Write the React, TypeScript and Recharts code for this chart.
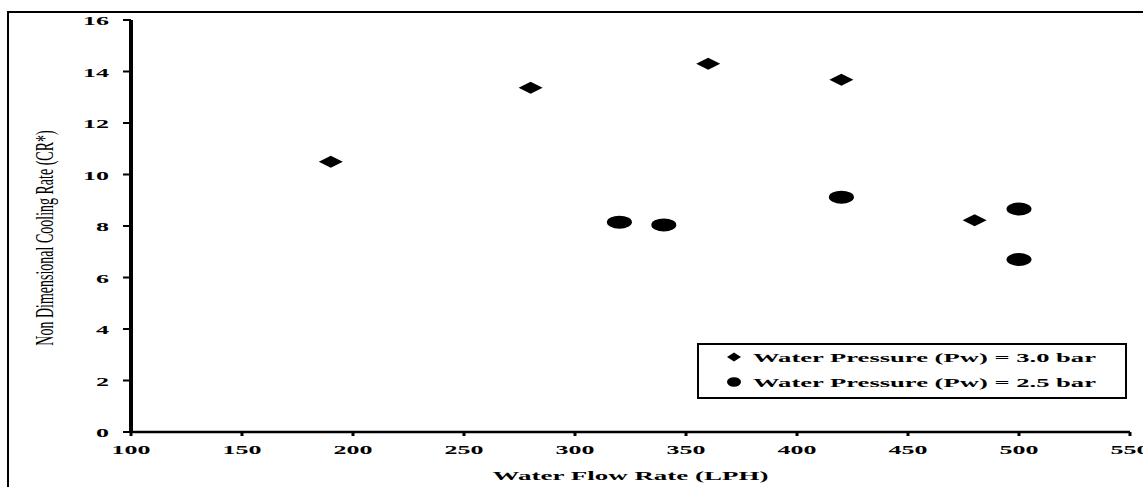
import React from "react";
import { ScatterChart, Scatter, XAxis, YAxis, Legend } from "recharts";

const FONT = "'Liberation Serif', 'Times New Roman', serif";

const xTicks = [100, 150, 200, 250, 300, 350, 400, 450, 500, 550];
const yTicks = [0, 2, 4, 6, 8, 10, 12, 14, 16];

const seriesNames = [
  "Water Pressure (Pw) = 3.0 bar",
  "Water Pressure (Pw) = 2.5 bar",
];

// Pw = 3.0 bar (diamonds)
const pw30 = [
  { flow: 190, cr: 10.5 },
  { flow: 280, cr: 13.37 },
  { flow: 360, cr: 14.3 },
  { flow: 420, cr: 13.68 },
  { flow: 480, cr: 8.22 },
];

// Pw = 2.5 bar (circles)
const pw25 = [
  { flow: 320, cr: 8.15 },
  { flow: 340, cr: 8.04 },
  { flow: 420, cr: 9.12 },
  { flow: 500, cr: 8.66 },
  { flow: 500, cr: 6.7 },
];

const Diamond = (props: any) => {
  const { cx, cy } = props;
  const w = props.w ?? 12;
  const h = props.h ?? 6;
  return (
    <path
      d={`M${cx - w},${cy} L${cx},${cy - h} L${cx + w},${cy} L${cx},${cy + h} Z`}
      fill="#000"
    />
  );
};

const Oval = (props: any) => {
  const { cx, cy } = props;
  return <ellipse cx={cx} cy={cy} rx={props.rx ?? 12.5} ry={props.ry ?? 6.5} fill="#000" />;
};

const XTick = (props: any) => {
  const { x, y, payload } = props;
  return (
    <text
      transform={`translate(${x},${y}) scale(2,1)`}
      textAnchor="middle"
      dy="0.71em"
      fontFamily={FONT}
      fontWeight="bold"
      fontSize={13}
      fill="#000"
      stroke="none"
    >
      {payload.value}
    </text>
  );
};

const YTick = (props: any) => {
  const { x, y, payload } = props;
  return (
    <text
      transform={`translate(${x},${y}) scale(2,1)`}
      textAnchor="end"
      dy="0.4em"
      fontFamily={FONT}
      fontWeight="bold"
      fontSize={13}
      fill="#000"
      stroke="none"
    >
      {payload.value}
    </text>
  );
};

const XTitle = (props: any) => {
  const { x, y, width } = props.viewBox || {};
  return (
    <text
      transform={`translate(${x + width / 2},${y + 43}) scale(2,1)`}
      textAnchor="middle"
      dy="0.35em"
      fontFamily={FONT}
      fontWeight="bold"
      fontSize={13.5}
      fill="#000"
    >
      Water Flow Rate (LPH)
    </text>
  );
};

const YTitle = (props: any) => {
  const { y, height } = props.viewBox || {};
  return (
    <text
      transform={`translate(44,${y + height / 2 + 12}) scale(1.8,1) rotate(-90)`}
      textAnchor="middle"
      dy="0.35em"
      fontFamily={FONT}
      fontSize={14}
      fill="#000"
    >
      Non Dimensional Cooling Rate (CR*)
    </text>
  );
};

const LegendBox = (props: any) => {
  const payload = [...(props.payload || [])].sort(
    (a: any, b: any) => seriesNames.indexOf(a.value) - seriesNames.indexOf(b.value)
  );
  return (
    <svg width={430} height={56} style={{ display: "block" }}>
      <rect x={1} y={1} width={428} height={54} fill="#fff" stroke="#000" strokeWidth={2} />
      {payload.map((entry: any, i: number) => {
        const cy = 14 + i * 25;
        return (
          <g key={i}>
            {entry.value === seriesNames[0] ? (
              <Diamond cx={37} cy={cy} w={7} h={4.5} />
            ) : (
              <Oval cx={37} cy={cy} rx={7} ry={4.8} />
            )}
            <text
              transform={`translate(56,${cy}) scale(2,1)`}
              dy="0.35em"
              fontFamily={FONT}
              fontWeight="bold"
              fontSize={13.3}
              fill="#000"
            >
              {entry.value}
            </text>
          </g>
        );
      })}
    </svg>
  );
};

export default function App() {
  return (
    <div
      style={{
        position: "absolute",
        left: 0,
        top: 0,
        width: 1143,
        height: 487,
        overflow: "hidden",
        background: "#fff",
      }}
    >
      <div
        style={{
          position: "absolute",
          left: 7,
          top: 11,
          width: 1200,
          height: 600,
          border: "2px solid #000",
        }}
      />
      <ScatterChart
        width={1143}
        height={487}
        margin={{ top: 20, right: 13, left: 0, bottom: 0 }}
      >
        <XAxis
          type="number"
          dataKey="flow"
          domain={[100, 550]}
          ticks={xTicks}
          interval={0}
          height={55}
          tickSize={4}
          tickMargin={9}
          tick={<XTick />}
          stroke="#000"
          strokeWidth={2.5}
          axisLine={{ stroke: "#000", strokeWidth: 2.5 }}
          tickLine={{ stroke: "#000", strokeWidth: 3 }}
          label={(p: any) => <XTitle {...p} />}
        />
        <YAxis
          type="number"
          dataKey="cr"
          domain={[0, 16]}
          ticks={yTicks}
          interval={0}
          width={131}
          tickSize={8}
          tickMargin={14}
          tick={<YTick />}
          stroke="#000"
          strokeWidth={4}
          axisLine={{ stroke: "#000", strokeWidth: 4 }}
          tickLine={{ stroke: "#000", strokeWidth: 2 }}
          label={(p: any) => <YTitle {...p} />}
        />
        <Legend
          layout="horizontal"
          verticalAlign="middle"
          align="center"
          content={<LegendBox />}
          wrapperStyle={{ position: "absolute", left: 697, top: 343, width: 430, height: 56 }}
        />
        <Scatter
          name={seriesNames[0]}
          data={pw30}
          fill="#000"
          shape={(p: any) => <Diamond {...p} />}
          isAnimationActive={false}
        />
        <Scatter
          name={seriesNames[1]}
          data={pw25}
          fill="#000"
          shape={(p: any) => <Oval {...p} />}
          isAnimationActive={false}
        />
      </ScatterChart>
    </div>
  );
}
